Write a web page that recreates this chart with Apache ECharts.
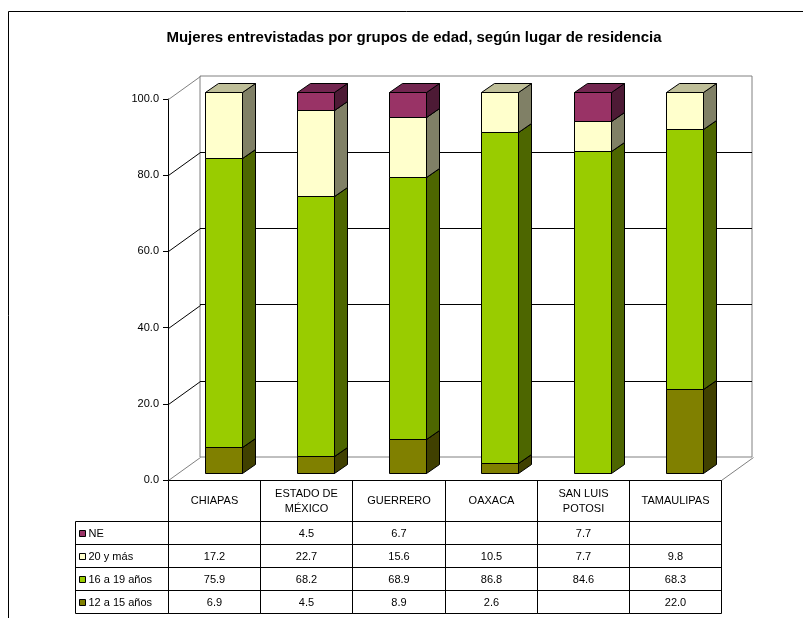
<!DOCTYPE html>
<html><head><meta charset="utf-8">
<script src="https://cdn.jsdelivr.net/npm/echarts@6/dist/echarts.min.js"></script>
<style>html,body{margin:0;padding:0;background:#fff}#c{width:803px;height:618px}</style>
</head><body><div id="c"></div>
<script>
const categories = ['CHIAPAS', 'ESTADO DE\nMÉXICO', 'GUERRERO', 'OAXACA', 'SAN LUIS\nPOTOSI', 'TAMAULIPAS'];
const ne = [null, 4.5, 6.7, null, 7.7, null];
const veinteYMas = [17.2, 22.7, 15.6, 10.5, 7.7, 9.8];
const dieciseisA19 = [75.9, 68.2, 68.9, 86.8, 84.6, 68.3];
const doceA15 = [6.9, 4.5, 8.9, 2.6, null, 22.0];
const seriesNames = ['NE', '20 y más', '16 a 19 años', '12 a 15 años'];
const yTicks = [0, 20, 40, 60, 80, 100];
const chartTitle = 'Mujeres entrevistadas por grupos de edad, según lugar de residencia';

const FONT = '"Liberation Sans", Arial, sans-serif';
const styles = {
  'NE': { front: '#993366', top: '#732650', side: '#4d1a35' },
  '20 y más': { front: '#FFFFCC', top: '#bfbf99', side: '#808066' },
  '16 a 19 años': { front: '#99CC00', top: '#739900', side: '#4d6600' },
  '12 a 15 años': { front: '#808000', top: '#606000', side: '#404000' }
};
// table rows (top to bottom)
const tableRows = [ne, veinteYMas, dieciseisA19, doceA15];
// stack order (bottom to top)
const stack = [
  { name: '12 a 15 años', data: doceA15 },
  { name: '16 a 19 años', data: dieciseisA19 },
  { name: '20 y más', data: veinteYMas },
  { name: 'NE', data: ne }
];
const DX = 13, DY = -9;      // bar depth
const WDX = 32, WDY = -23;   // wall depth

function barSeries(k) {
  const s = stack[k];
  const data = categories.map((c, i) => {
    let base = 0;
    for (let j = 0; j < k; j++) base += (stack[j].data[i] || 0);
    return [i, base, base + (s.data[i] || 0)];
  });
  const st = styles[s.name];
  return {
    type: 'custom', name: s.name, xAxisIndex: 2, yAxisIndex: 2, z: 10 + k,
    data: data,
    renderItem: function (params, api) {
      const i = api.value(0), b = api.value(1), t = api.value(2);
      if (!(t - b > 0)) return null;
      const p0 = api.coord([i, b]), p1 = api.coord([i, t]);
      const w = Math.round(api.size([1, 0])[0] * 0.4);
      const x0 = Math.round(p0[0] - w / 2) + 0.5, x1 = x0 + w;
      const yb = Math.round(p0[1]) + 0.5, yt = Math.round(p1[1]) + 0.5;
      const ls = { stroke: '#000', lineWidth: 1, lineJoin: 'miter' };
      return {
        type: 'group', children: [
          { type: 'polygon', shape: { points: [[x0, yt], [x1, yt], [x1, yb], [x0, yb]] }, style: Object.assign({ fill: st.front }, ls) },
          { type: 'polygon', shape: { points: [[x1, yb], [x1 + DX, yb + DY], [x1 + DX, yt + DY], [x1, yt]] }, style: Object.assign({ fill: st.side }, ls) },
          { type: 'polygon', shape: { points: [[x0, yt], [x0 + DX, yt + DY], [x1 + DX, yt + DY], [x1, yt]] }, style: Object.assign({ fill: st.top }, ls) }
        ]
      };
    }
  };
}

const wallSeries = {
  type: 'custom', xAxisIndex: 0, yAxisIndex: 0, z: 3,
  data: yTicks.map(v => [0, v]),
  renderItem: function (params, api) {
    const v = api.value(1);
    const cs = params.coordSys;
    const y = Math.round(api.coord([0, v])[1]) + 0.5;
    const x = cs.x + 0.5;
    const edge = (v === yTicks[0] || v === yTicks[yTicks.length - 1]);
    const col = edge ? '#808080' : '#000';
    const ch = [{ type: 'line', shape: { x1: x, y1: y, x2: x + WDX, y2: y + WDY }, style: { stroke: col, lineWidth: 1 } }];
    if (v === yTicks[0]) {
      const xr = cs.x + cs.width + 0.5;
      ch.push({ type: 'line', shape: { x1: xr, y1: y, x2: xr + WDX, y2: y + WDY }, style: { stroke: '#808080', lineWidth: 1 } });
    }
    return { type: 'group', children: ch };
  }
};

const tableSeries = {
  type: 'custom', xAxisIndex: 0, yAxisIndex: 0, z: 20,
  data: categories.map((c, i) => [i, 0]),
  renderItem: function (params, api) {
    const i = api.value(0);
    const c = api.coord([i, 0]);
    const w = api.size([1, 0])[0];
    const xl = Math.round(c[0] - w / 2) + 0.5, xr = Math.round(c[0] + w / 2) + 0.5;
    const top = Math.round(c[1]) + 0.5;
    const hh = 41, rh = 23;
    const ls = { stroke: '#000', lineWidth: 1, fill: null };
    const ch = [];
    ch.push({ type: 'rect', shape: { x: xl, y: top, width: xr - xl, height: hh + 4 * rh }, style: ls });
    for (let r = 0; r < 4; r++) {
      const yy = top + hh + r * rh;
      ch.push({ type: 'line', shape: { x1: xl, y1: yy, x2: xr, y2: yy }, style: { stroke: '#000', lineWidth: 1 } });
      const v = tableRows[r][i];
      if (v != null) {
        ch.push({ type: 'text', style: { text: v.toFixed(1), x: (xl + xr) / 2, y: yy + rh / 2 + 0.5, align: 'center', verticalAlign: 'middle', font: '11px ' + FONT, fill: '#000' } });
      }
    }
    ch.push({ type: 'text', style: { text: categories[i], x: (xl + xr) / 2, y: top + hh / 2, align: 'center', verticalAlign: 'middle', font: '11px ' + FONT, fill: '#000', lineHeight: 15 } });
    if (i === 0) {
      const lx = xl - 93;
      ch.push({ type: 'rect', shape: { x: lx, y: top + hh, width: xl - lx, height: 4 * rh }, style: ls });
      for (let r = 0; r < 4; r++) {
        const yy = top + hh + r * rh;
        if (r > 0) ch.push({ type: 'line', shape: { x1: lx, y1: yy, x2: xl, y2: yy }, style: { stroke: '#000', lineWidth: 1 } });
        const nm = seriesNames[r];
        ch.push({ type: 'rect', shape: { x: lx + 4, y: Math.round(yy + rh / 2 - 3) + 0.5, width: 6, height: 6 }, style: { fill: styles[nm].front, stroke: '#000', lineWidth: 1 } });
        ch.push({ type: 'text', style: { text: nm, x: lx + 13, y: yy + rh / 2 + 0.5, align: 'left', verticalAlign: 'middle', font: '11px ' + FONT, fill: '#000' } });
      }
    }
    return { type: 'group', children: ch };
  }
};

const chart = echarts.init(document.getElementById('c'), null, { renderer: 'canvas' });
chart.setOption({
  animation: false,
  backgroundColor: '#fff',
  graphic: [{
    type: 'rect', shape: { x: 8.5, y: 11.5, width: 1000, height: 1000 },
    style: { fill: null, stroke: '#000', lineWidth: 1 }, z: 100, silent: true
  }, {
    type: 'text', x: 414, y: 38, z: 100, silent: true,
    style: { text: chartTitle, align: 'center', verticalAlign: 'middle', font: 'bold 15px ' + FONT, fill: '#000' }
  }],
  grid: [
    { left: 168, top: 99, width: 553, height: 381, outerBoundsMode: 'none' },
    { left: 200, top: 76, width: 552, height: 381, show: true, borderColor: '#808080', borderWidth: 1, backgroundColor: 'transparent', outerBoundsMode: 'none' },
    { left: 177.4, top: 92, width: 553, height: 381, outerBoundsMode: 'none' }
  ],
  xAxis: [
    { type: 'category', gridIndex: 0, data: categories, axisLine: { show: true, lineStyle: { color: '#000' } }, axisTick: { show: false }, axisLabel: { show: false }, splitLine: { show: false } },
    { type: 'category', gridIndex: 1, data: categories, show: false },
    { type: 'category', gridIndex: 2, data: categories, show: false }
  ],
  yAxis: [
    {
      type: 'value', gridIndex: 0, min: 0, max: 100, interval: 20,
      axisLine: { show: true, lineStyle: { color: '#000' } },
      axisTick: { show: true, length: 5, inside: false, lineStyle: { color: '#000' } },
      axisLabel: { margin: 9, color: '#000', fontFamily: FONT, fontSize: 11, formatter: v => v.toFixed(1) },
      splitLine: { show: false }
    },
    {
      type: 'value', gridIndex: 1, min: 0, max: 100, interval: 20,
      axisLine: { show: false }, axisTick: { show: false }, axisLabel: { show: false },
      splitLine: { show: true, showMinLine: false, showMaxLine: false, lineStyle: { color: '#000', width: 1 } }
    },
    { type: 'value', gridIndex: 2, min: 0, max: 100, interval: 20, show: false }
  ],
  series: [wallSeries, barSeries(0), barSeries(1), barSeries(2), barSeries(3), tableSeries]
});
</script>
</body></html>
